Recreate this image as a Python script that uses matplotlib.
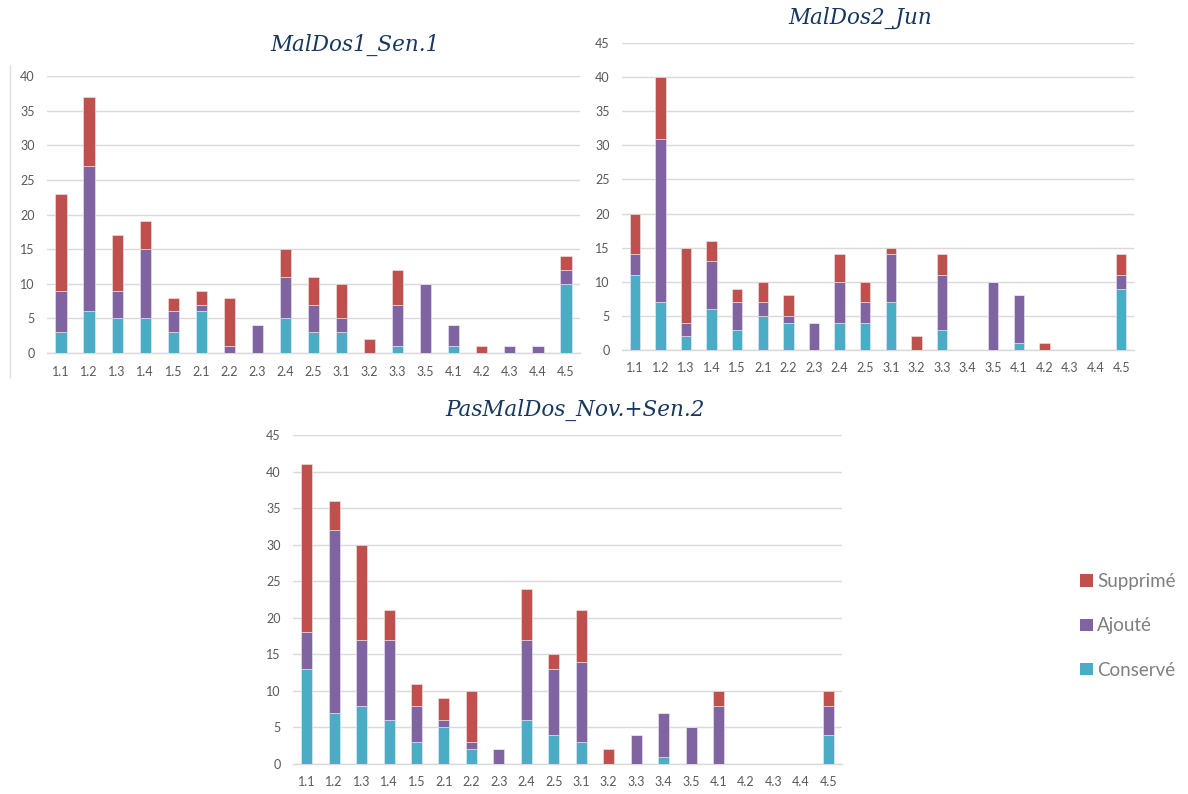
import matplotlib
matplotlib.use("Agg")
import matplotlib.pyplot as plt
import numpy as np
from matplotlib.patches import Patch
from matplotlib.lines import Line2D

# ---- data ----
cats_1 = ["1.1", "1.2", "1.3", "1.4", "1.5", "2.1", "2.2", "2.3", "2.4", "2.5",
          "3.1", "3.2", "3.3", "3.5", "4.1", "4.2", "4.3", "4.4", "4.5"]
conserve_1 = [3, 6, 5, 5, 3, 6, 0, 0, 5, 3, 3, 0, 1, 0, 1, 0, 0, 0, 10]
ajoute_1 = [6, 21, 4, 10, 3, 1, 1, 4, 6, 4, 2, 0, 6, 10, 3, 0, 1, 1, 2]
supprime_1 = [14, 10, 8, 4, 2, 2, 7, 0, 4, 4, 5, 2, 5, 0, 0, 1, 0, 0, 2]

cats_2 = ["1.1", "1.2", "1.3", "1.4", "1.5", "2.1", "2.2", "2.3", "2.4", "2.5",
          "3.1", "3.2", "3.3", "3.4", "3.5", "4.1", "4.2", "4.3", "4.4", "4.5"]
conserve_2 = [11, 7, 2, 6, 3, 5, 4, 0, 4, 4, 7, 0, 3, 0, 0, 1, 0, 0, 0, 9]
ajoute_2 = [3, 24, 2, 7, 4, 2, 1, 4, 6, 3, 7, 0, 8, 0, 10, 7, 0, 0, 0, 2]
supprime_2 = [6, 9, 11, 3, 2, 3, 3, 0, 4, 3, 1, 2, 3, 0, 0, 0, 1, 0, 0, 3]

cats_3 = cats_2
conserve_3 = [13, 7, 8, 6, 3, 5, 2, 0, 6, 4, 3, 0, 0, 1, 0, 0, 0, 0, 0, 4]
ajoute_3 = [5, 25, 9, 11, 5, 1, 1, 2, 11, 9, 11, 0, 4, 6, 5, 8, 0, 0, 0, 4]
supprime_3 = [23, 4, 13, 4, 3, 3, 7, 0, 7, 2, 7, 2, 0, 0, 0, 2, 0, 0, 0, 2]

series_names = ["Conservé", "Ajouté", "Supprimé"]
colors = ["#4BACC6", "#8064A2", "#C0504D"]

W, H = 1188, 794
TITLE_COLOR = "#17375E"
TICK_COLOR = "#595959"
GRID_COLOR = "#D9D9D9"

plt.rcParams["font.family"] = ["Lato", "DejaVu Sans"]

fig = plt.figure(figsize=(W / 100, H / 100), dpi=100)


def px_axes(x0, x1, ytop, ybot):
    # axes placed in pixel coords (origin top-left)
    return fig.add_axes([x0 / W, (H - ybot) / H, (x1 - x0) / W, (ybot - ytop) / H])


def stacked(ax, cats, cons, ajo, sup, ymax, title, title_xy):
    x = np.arange(len(cats))
    bottom = np.zeros(len(cats))
    for vals, col in zip([cons, ajo, sup], colors):
        vals = np.array(vals, dtype=float)
        ax.bar(x, vals, 0.4, bottom=bottom, color=col, edgecolor="#EDEDED",
               linewidth=0.4, zorder=3)
        bottom += vals
    ax.set_xlim(-0.5, len(cats) - 0.5)
    ax.set_ylim(0, ymax)
    ax.set_yticks(np.arange(0, ymax + 1, 5))
    ax.set_xticks(x)
    ax.set_xticklabels(cats)
    ax.yaxis.grid(True, color=GRID_COLOR, linewidth=1.0, zorder=0)
    ax.set_axisbelow(True)
    for s in ["top", "right", "left"]:
        ax.spines[s].set_visible(False)
    ax.spines["bottom"].set_color(GRID_COLOR)
    ax.spines["bottom"].set_linewidth(1.0)
    ax.tick_params(axis="both", length=0, labelsize=9, colors=TICK_COLOR)
    ax.tick_params(axis="x", pad=9)
    ax.tick_params(axis="y", pad=9)
    fig.text(title_xy[0] / W, 1 - title_xy[1] / H, title, ha="center", va="center",
             fontsize=15.5, style="italic", color=TITLE_COLOR,
             family=["DejaVu Serif"])


ax1 = px_axes(47, 580, 76, 353)
stacked(ax1, cats_1, conserve_1, ajoute_1, supprime_1, 40, "MalDos1_Sen.1", (355, 45))

ax2 = px_axes(622, 1134, 43, 350)
stacked(ax2, cats_2, conserve_2, ajoute_2, supprime_2, 45, "MalDos2_Jun", (860, 18))

ax3 = px_axes(293, 842, 435, 764)
stacked(ax3, cats_3, conserve_3, ajoute_3, supprime_3, 45, "PasMalDos_Nov.+Sen.2", (575, 410))

# faint chart border on the left of the first chart
fig.add_artist(Line2D([10 / W, 10 / W], [1 - 65 / H, 1 - 378 / H], color="#E0E0E0",
                      linewidth=1, transform=fig.transFigure))

handles = [Patch(facecolor=colors[i], edgecolor="none", label=series_names[i]) for i in [2, 1, 0]]
leg = fig.legend(handles=handles, loc="center left", bbox_to_anchor=(1071 / W, 1 - 626 / H),
                 frameon=False, fontsize=13.5, labelspacing=1.45, handlelength=0.65,
                 handleheight=0.65, handletextpad=0.25, borderpad=0)
for t in leg.get_texts():
    t.set_color("#7F7F7F")

fig.savefig("out.png", dpi=100)
